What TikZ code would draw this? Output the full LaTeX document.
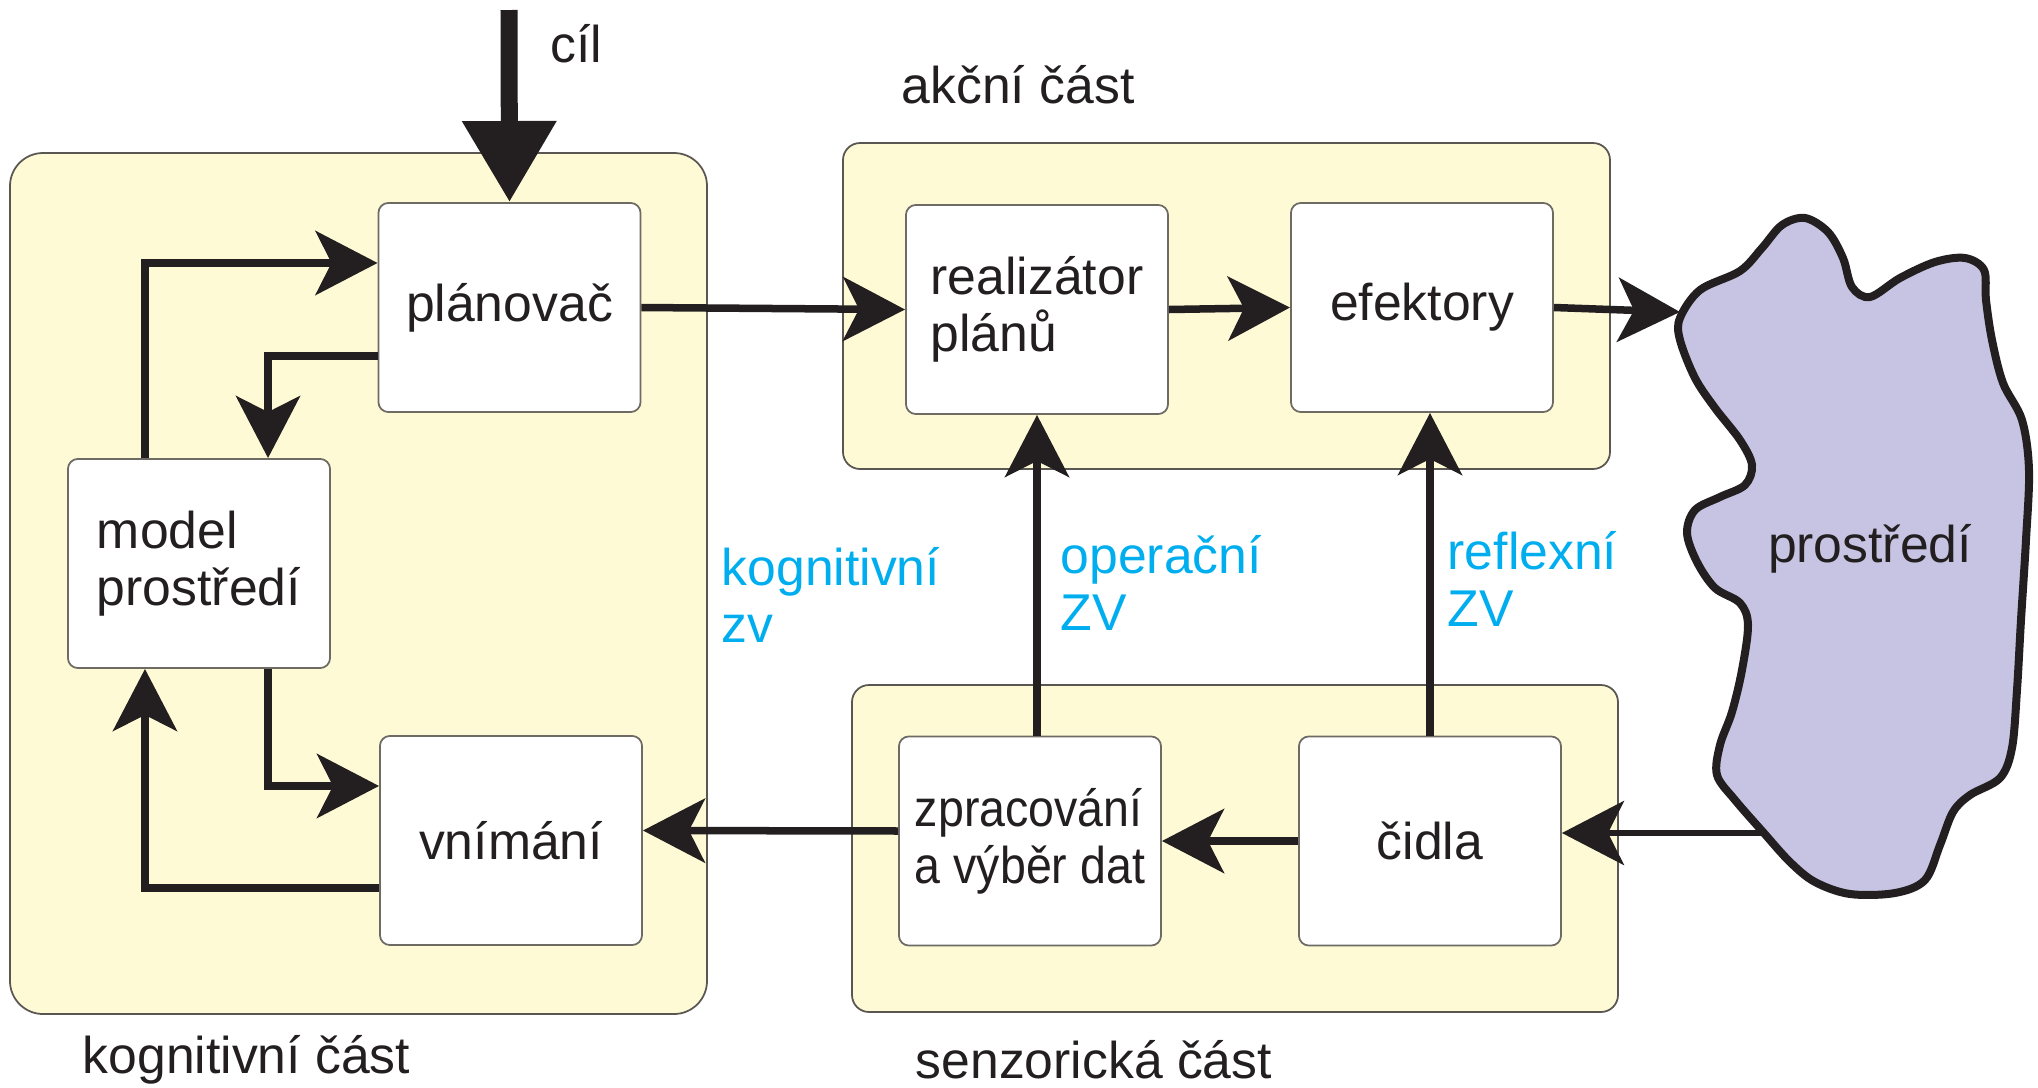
\documentclass[tikz,border=0pt]{standalone}
\usepackage{fontspec}
\setmainfont{Liberation Sans}
\newfontfamily\uzky[FakeStretch=0.9]{Liberation Sans}
\usepackage{xcolor}
\usetikzlibrary{arrows.meta}
\definecolor{partfill}{RGB}{255,250,214}
\definecolor{partline}{RGB}{90,86,82}
\definecolor{boxline}{RGB}{110,106,100}
\definecolor{ink}{RGB}{35,31,32}
\definecolor{zvblue}{RGB}{0,174,239}
\definecolor{cloudfill}{RGB}{198,196,226}

\begin{document}
\begin{tikzpicture}[x=0.01cm, y=-0.01cm,
  font=\fontsize{14.7}{16.2}\selectfont,
  part/.style={draw=partline, fill=partfill, line width=0.5pt},
  blok/.style={draw=boxline, fill=white, line width=0.5pt, rounded corners=0.1cm,
    minimum width=2.62cm, minimum height=2.09cm, inner sep=0pt, align=left, text=ink},
  sipka/.style={draw=ink, line width=0.075cm, -{Stealth[length=0.62cm, width=0.64cm, inset=0.16cm]}},
  zv/.style={text=zvblue, align=left, anchor=base west, inner sep=0pt},
  popis/.style={text=ink, anchor=base west, inner sep=0pt}]
 \useasboundingbox (0,0) rectangle (2038,1087);
 \draw[part, rounded corners=0.33cm] (10,153) rectangle (707,1014);
 \draw[part, rounded corners=0.17cm] (843,143) rectangle (1610,469);
 \draw[part, rounded corners=0.17cm] (852,685) rectangle (1618,1012);
 \foreach \name/\x/\y/\txt in {planovac/509.5/307.5/{plánovač}, model/199/563.5/{model\\prostředí},
   vnimani/511/840.5/{vnímání}, realizator/1037/309.5/{realizátor\\plánů},
   efektory/1422/307.5/{efektory}, zpracovani/1030/841/{\uzky zpracování\\\uzky a výběr dat},
   cidla/1430/841/{čidla}}
   \node[blok] (\name) at (\x,\y) {\txt};
 % prostredi
 \draw[ink, line width=0.08cm, fill=cloudfill] plot[smooth cycle, tension=0.55] coordinates {
   (1680,318) (1700,290) (1740,271) (1762,248) (1782,225) (1805,218) (1828,232) (1843,258)
   (1852,287) (1870,297) (1900,278) (1935,262) (1965,258) (1984,270) (1986,300) (1992,340)
   (2003,383) (2022,420) (2029,470) (2026,540) (2021,620) (2017,690) (2012,748) (2000,778)
   (1970,795) (1953,812) (1940,845) (1925,880) (1895,893) (1850,894) (1815,882) (1790,862)
   (1763,832) (1735,800) (1717,775) (1720,745) (1732,712) (1742,670) (1748,625) (1740,603)
   (1715,588) (1697,562) (1687,533) (1695,510) (1720,497) (1745,485) (1752,465) (1740,440)
   (1715,408) (1695,378) (1680,340)};
 \node[text=ink, anchor=base] (prostredi) at (1870,562) {prostředí};
 \coordinate (pr-in) at (1680,312);
 \coordinate (pr-out) at (1763,833);
 \coordinate (cil-top) at (509,10);
 \draw[ink, line width=0.17cm, -{Triangle[length=0.81cm, width=0.9cm]}] (cil-top) -- (planovac.north);
 \draw[sipka] (planovac.east) -- (realizator.west);
 \draw[sipka] (realizator.east) -- (efektory.west);
 \draw[sipka] (efektory.east) -- (pr-in);
 \draw[sipka, line width=0.055cm] (pr-out) -- (pr-out -| cidla.east);
 \draw[sipka] (cidla.west) -- (zpracovani.east);
 \draw[sipka] ([yshift=0.1cm]zpracovani.west) -- ([yshift=0.1cm]vnimani.east);
 \draw[sipka] (zpracovani.north -| realizator.south) -- (realizator.south);
 \draw[sipka] (cidla.north) -- (cidla.north |- efektory.south);
 \draw[sipka] ([xshift=-0.54cm]model.north) |- ([yshift=0.445cm]planovac.west);
 \draw[sipka] ([yshift=-0.485cm]planovac.west) -| ([xshift=0.69cm]model.north);
 \draw[sipka] ([xshift=0.69cm]model.south) |- ([yshift=0.545cm]vnimani.west);
 \draw[sipka] ([yshift=-0.475cm]vnimani.west) -| ([xshift=-0.54cm]model.south);
 \node[popis] (cil) at (550,62) {cíl};
 \node[popis] (akcni) at (901,103) {akční část};
 \node[popis] (kognitivni) at (82,1073) {kognitivní část};
 \node[popis] (senzoricka) at (915,1078) {senzorická část};
 \node[zv] (kzv) at (721,642) {kognitivní\\zv};
 \node[zv] (ozv) at (1060,630) {operační\\ZV};
 \node[zv] (rzv) at (1447,626) {reflexní\\ZV};
\end{tikzpicture}
\end{document}
